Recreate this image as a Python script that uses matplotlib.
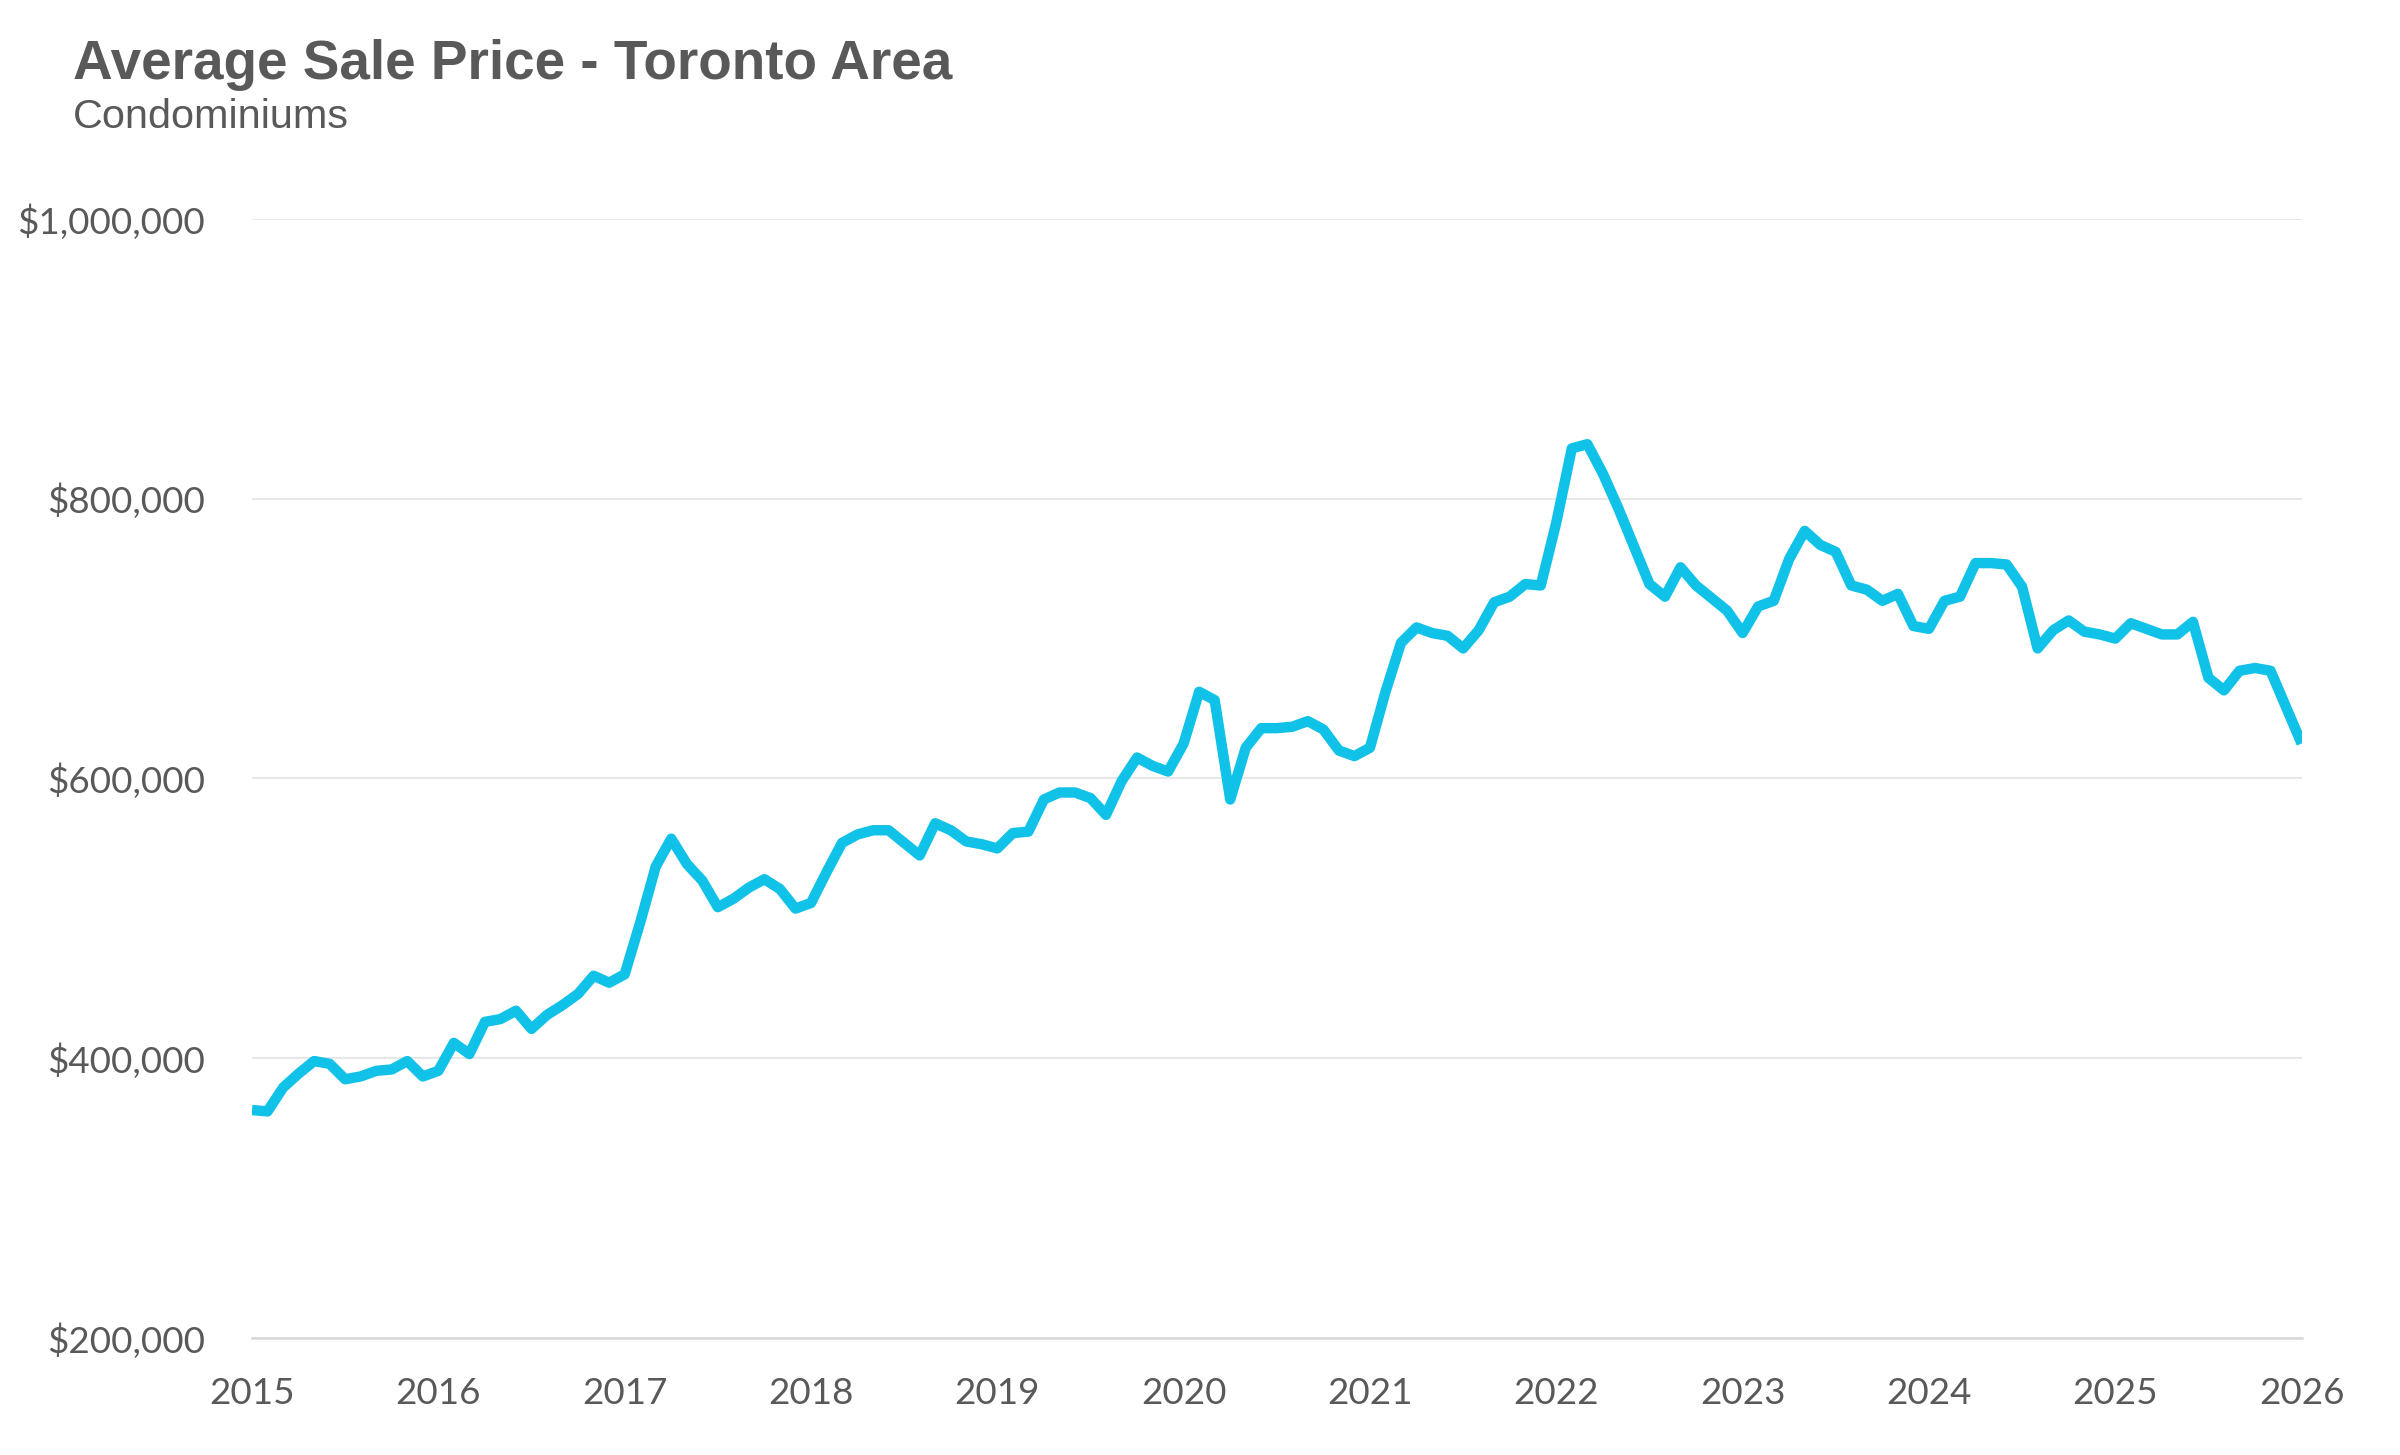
import matplotlib.pyplot as plt
import numpy as np
from matplotlib.ticker import FuncFormatter

# Average sale price, condominiums, Toronto area (monthly, Jan 2015 - Jan 2026), in $000
precios_2015 = [363, 362, 379, 389, 398, 396, 385, 387, 391, 392, 398, 387]
precios_2016 = [391, 411, 403, 426, 428, 434, 421, 431, 438, 446, 459, 454]
precios_2017 = [460, 497, 537, 557, 539, 527, 508, 514, 522, 528, 521, 507]
precios_2018 = [511, 533, 554, 560, 563, 563, 554, 545, 568, 563, 555, 553]
precios_2019 = [550, 561, 562, 585, 590, 590, 586, 574, 598, 615, 609, 605]
precios_2020 = [625, 662, 656, 585, 622, 636, 636, 637, 641, 635, 620, 616]
precios_2021 = [622, 662, 697, 708, 704, 702, 693, 706, 726, 730, 739, 738]
precios_2022 = [783, 836, 839, 818, 793, 766, 739, 730, 751, 738, 729, 720]
precios_2023 = [704, 723, 727, 757, 777, 767, 762, 738, 735, 727, 732, 709]
precios_2024 = [707, 727, 730, 754, 754, 753, 737, 693, 706, 713, 705, 703]
precios_2025 = [700, 711, 707, 703, 703, 712, 672, 663, 677, 679, 677, 651]
precios_2026 = [625]

anios = [2015, 2016, 2017, 2018, 2019, 2020, 2021, 2022, 2023, 2024, 2025, 2026]
ticks_y = [200000, 400000, 600000, 800000, 1000000]

titulo = "Average Sale Price - Toronto Area"
subtitulo = "Condominiums"

GRIS = "#595959"
CIAN = "#10C1E8"


def main():
    precios = (precios_2015 + precios_2016 + precios_2017 + precios_2018 +
               precios_2019 + precios_2020 + precios_2021 + precios_2022 +
               precios_2023 + precios_2024 + precios_2025 + precios_2026)
    precios = np.array(precios) * 1000
    x = anios[0] + np.arange(len(precios)) / 12

    fig = plt.figure(figsize=(24, 14.55), dpi=100)
    ax = fig.add_axes([0.105, 0.0804, 0.854, 0.7691])

    ax.plot(x, precios, color=CIAN, lw=7.5, solid_joinstyle='round',
            solid_capstyle='butt', zorder=3)

    # Configurar ejes
    ax.set_xlim(anios[0], anios[-1])
    ax.set_ylim(ticks_y[0], ticks_y[-1])
    ax.set_xticks(anios)
    ax.set_yticks(ticks_y)
    ax.yaxis.set_major_formatter(FuncFormatter(lambda v, p: f"${v:,.0f}"))
    ax.yaxis.grid(True, color="#E3E3E3", lw=1.2)
    ax.set_axisbelow(True)
    for lado in ['top', 'right', 'left']:
        ax.spines[lado].set_visible(False)
    ax.spines['bottom'].set_color("#D9D9D9")
    ax.spines['bottom'].set_linewidth(1.8)
    ax.tick_params(axis='both', length=0, labelsize=26.5, labelcolor=GRIS)
    ax.tick_params(axis='y', pad=34)
    ax.tick_params(axis='x', pad=28)
    for etiqueta in ax.get_xticklabels() + ax.get_yticklabels():
        etiqueta.set_fontfamily(['Lato', 'DejaVu Sans'])

    # Titulos
    fig.text(0.0305, 0.9457, titulo, fontsize=39.5, fontweight='bold',
             color=GRIS, family=['Liberation Sans', 'DejaVu Sans'], va='baseline')
    fig.text(0.0305, 0.912, subtitulo, fontsize=29.8, color=GRIS,
             family=['Liberation Sans', 'DejaVu Sans'], va='baseline')

    fig.savefig("out.png", dpi=100)


if __name__ == "__main__":
    main()
